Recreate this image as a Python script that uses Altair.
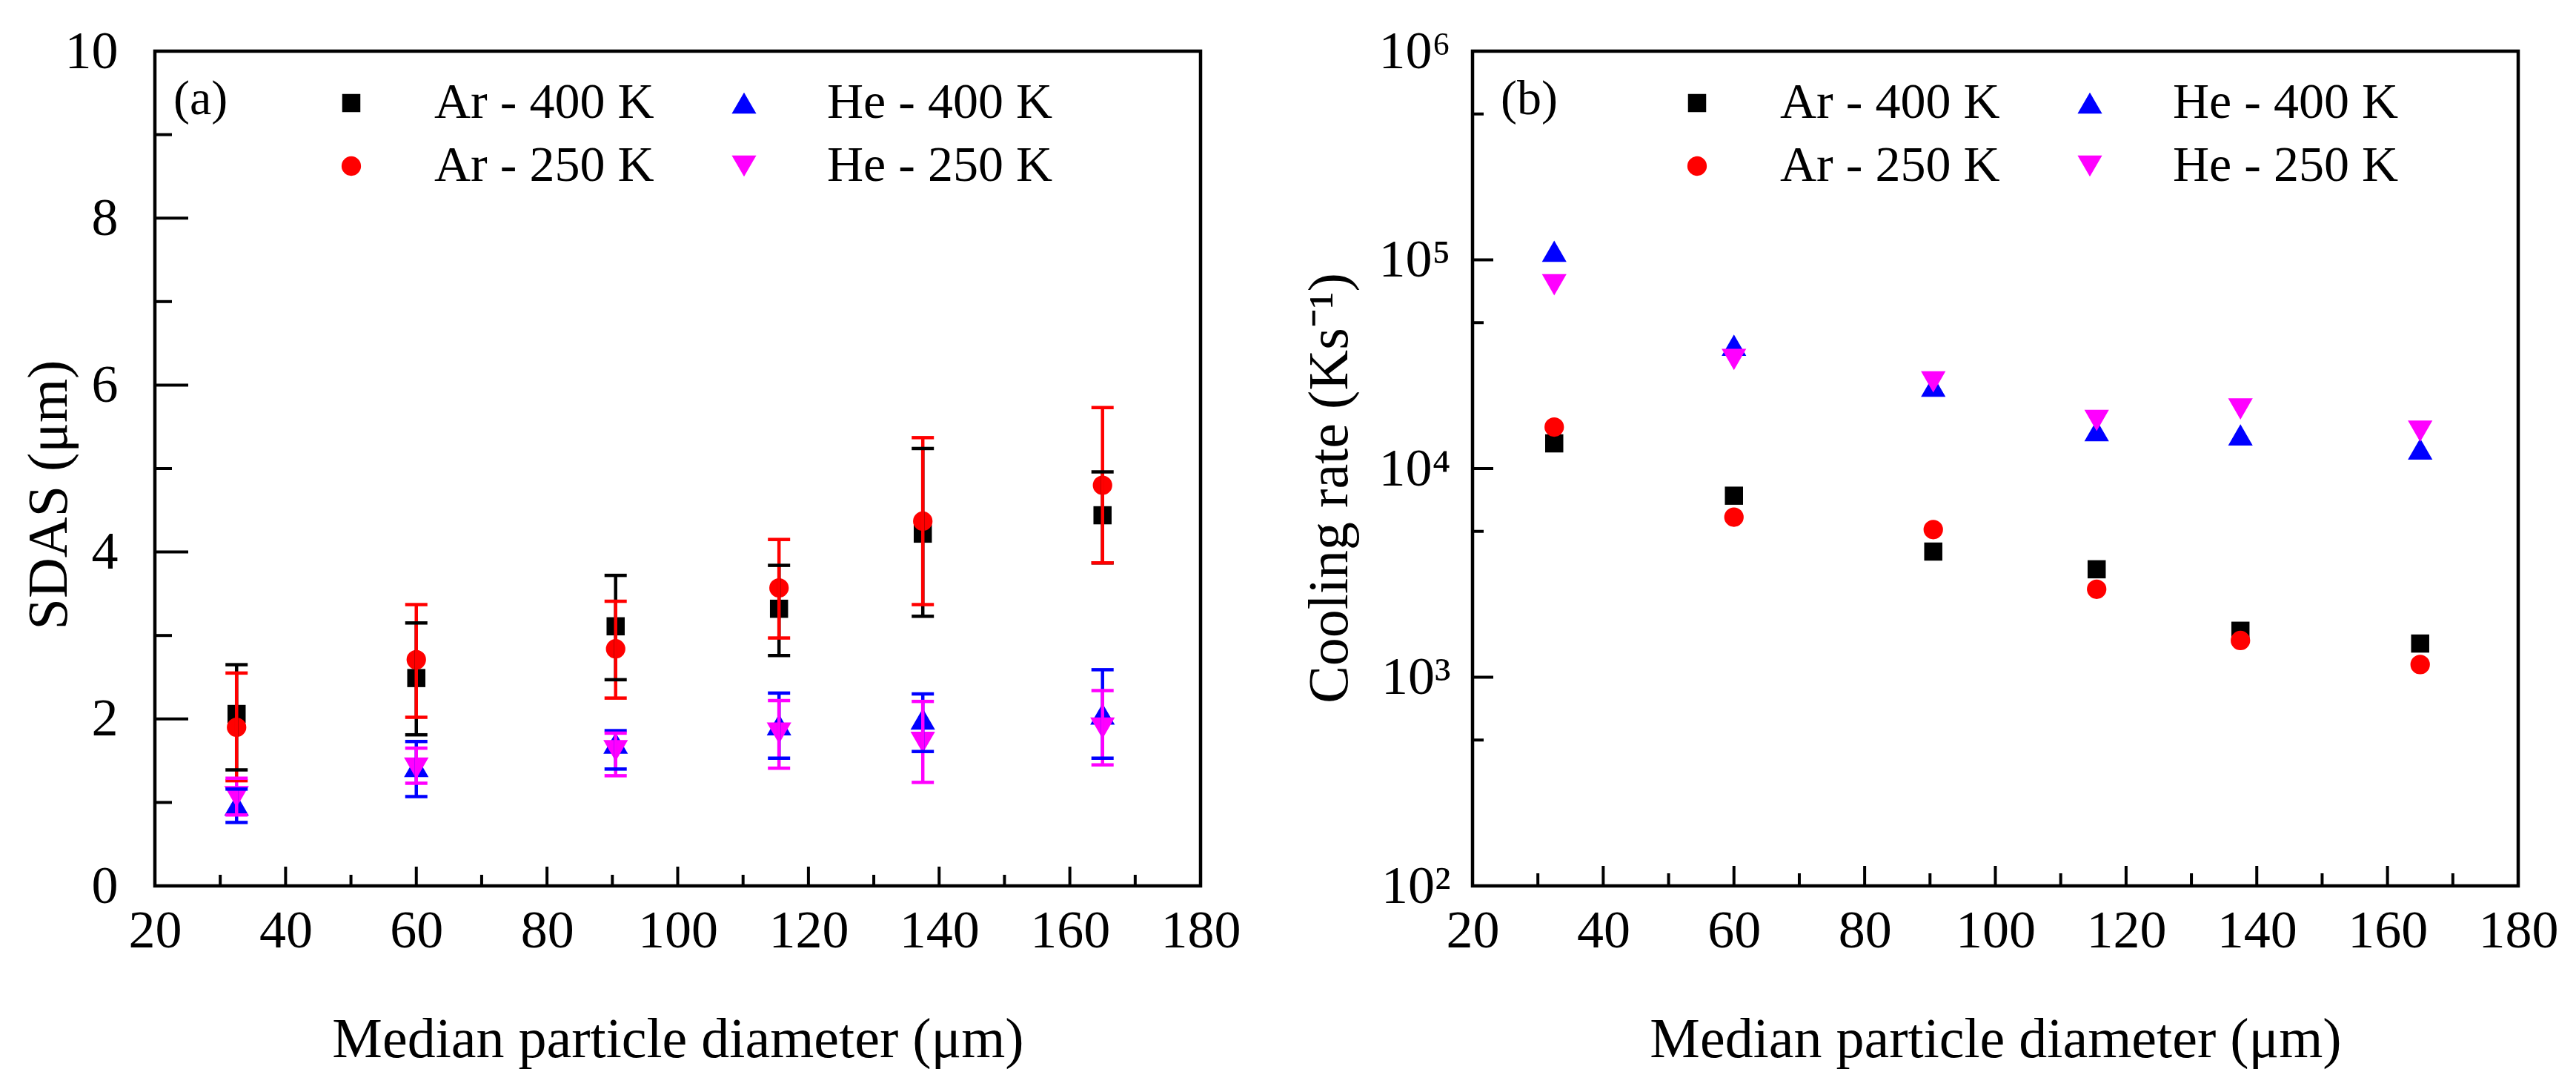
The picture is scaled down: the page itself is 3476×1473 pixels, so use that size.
import altair as alt
import pandas as pd

FONT = "Liberation Serif"

# ---------------- data ----------------
x_diam = [32.5, 60, 90.5, 115.5, 137.5, 165]
series = ["Ar - 400 K", "He - 400 K", "Ar - 250 K", "He - 250 K"]
colors = ["#000000", "#0000ff", "#ff0000", "#ff00ff"]
shapes = ["square", "triangle-up", "circle", "triangle-down"]
sizes = [600, 1100, 690, 1100]

# (a) SDAS (um) with error bars
ar400 = [2.06, 2.49, 3.11, 3.32, 4.22, 4.44]
ar400_lo = [1.39, 1.81, 2.47, 2.76, 3.23, 3.87]
ar400_hi = [2.65, 3.15, 3.72, 3.84, 5.24, 4.96]
ar250 = [1.90, 2.71, 2.84, 3.57, 4.37, 4.80]
ar250_lo = [1.26, 2.02, 2.25, 2.97, 3.37, 3.87]
ar250_hi = [2.55, 3.37, 3.41, 4.15, 5.37, 5.73]
he400 = [0.97, 1.43, 1.71, 1.93, 2.00, 2.06]
he400_lo = [0.76, 1.07, 1.40, 1.53, 1.61, 1.53]
he400_hi = [1.16, 1.73, 1.86, 2.31, 2.30, 2.59]
he250 = [1.07, 1.41, 1.62, 1.83, 1.72, 1.89]
he250_lo = [0.85, 1.23, 1.32, 1.41, 1.24, 1.45]
he250_hi = [1.29, 1.65, 1.83, 2.22, 2.21, 2.34]

# (b) cooling rate (K/s)
ar400_b = [1.32e4, 7.41e3, 4.0e3, 3.29e3, 1.67e3, 1.45e3]
ar250_b = [1.58e4, 5.85e3, 5.1e3, 2.64e3, 1.50e3, 1.15e3]
he400_b = [1.10e5, 3.9e4, 2.48e4, 1.52e4, 1.45e4, 1.24e4]
he250_b = [7.6e4, 3.33e4, 2.6e4, 1.70e4, 1.93e4, 1.51e4]

x_major = [20, 40, 60, 80, 100, 120, 140, 160, 180]
x_minor = [30, 50, 70, 90, 110, 130, 150, 170]
ya_major = [0, 2, 4, 6, 8, 10]
ya_minor = [1, 3, 5, 7, 9]
yb_major = [1e2, 1e3, 1e4, 1e5, 1e6]
yb_minor = [5e2, 5e3, 5e4, 5e5]

# ---------------- tables ----------------
rows_a = []
for name, ys, los, his in [
    ("Ar - 400 K", ar400, ar400_lo, ar400_hi),
    ("Ar - 250 K", ar250, ar250_lo, ar250_hi),
    ("He - 400 K", he400, he400_lo, he400_hi),
    ("He - 250 K", he250, he250_lo, he250_hi),
]:
    for xv, yv, lo, hi in zip(x_diam, ys, los, his):
        rows_a.append({"series": name, "d": xv, "v": yv, "lo": lo, "hi": hi})
df_a = pd.DataFrame(rows_a)

rows_b = []
for name, ys in [
    ("Ar - 400 K", ar400_b),
    ("Ar - 250 K", ar250_b),
    ("He - 400 K", he400_b),
    ("He - 250 K", he250_b),
]:
    for xv, yv in zip(x_diam, ys):
        rows_b.append({"series": name, "d": xv, "v": yv})
df_b = pd.DataFrame(rows_b)

W, H = 1411, 1126

x_scale = alt.Scale(domain=[20, 180], nice=False, zero=False)
ya_scale = alt.Scale(domain=[0, 10], nice=False, zero=False)
yb_scale = alt.Scale(type="log", domain=[100, 1e6], nice=False)

x_axis = alt.Axis(
    values=x_major, title="Median particle diameter (μm)",
    labelFont=FONT, labelFontSize=72, labelColor="black", labelPadding=25,
    labelFlush=False, labelOverlap=False,
    ticks=False, domain=False, grid=False,
    titleFont=FONT, titleFontSize=76, titleFontWeight="normal", titleColor="black",
    titleY=230, titleBaseline="alphabetic",
)
ya_axis = alt.Axis(
    values=ya_major, title="SDAS (μm)",
    labelFont=FONT, labelFontSize=72, labelColor="black", labelPadding=50,
    labelFlush=False, labelOverlap=False,
    ticks=False, domain=False, grid=False,
    titleFont=FONT, titleFontSize=76, titleFontWeight="normal", titleColor="black",
    titleX=-120, titleY=598, titleAlign="center", titleBaseline="alphabetic", titleAngle=270,
)
yb_axis = alt.Axis(
    values=yb_major, title="Cooling rate (Ks⁻¹)",
    labelExpr="'10' + ['⁰','¹','²','³','⁴','⁵','⁶'][round(log(datum.value)/LN10)]",
    labelFont=FONT, labelFontSize=72, labelColor="black", labelPadding=30,
    labelFlush=False, labelOverlap=False,
    ticks=False, domain=False, grid=False,
    titleFont=FONT, titleFontSize=76, titleFontWeight="normal", titleColor="black",
    titleX=-170, titleY=589, titleAlign="center", titleBaseline="alphabetic", titleAngle=270,
)


def legend(lx):
    return alt.Legend(
        orient="none", legendX=lx, legendY=36, columns=2, direction="horizontal",
        title=None, labelFont=FONT, labelFontSize=68, labelColor="black",
        labelOffset=78, columnPadding=87, rowPadding=17, padding=0,
        labelLimit=600, symbolStrokeWidth=0, symbolOpacity=1,
    )


def points(df, yscale, yaxis, lx):
    lg = legend(lx)
    return alt.Chart(df).mark_point(filled=True, opacity=1, strokeWidth=0).encode(
        x=alt.X("d:Q", scale=x_scale, axis=x_axis),
        y=alt.Y("v:Q", scale=yscale, axis=yaxis),
        color=alt.Color("series:N", scale=alt.Scale(domain=series, range=colors), legend=lg),
        shape=alt.Shape("series:N", scale=alt.Scale(domain=series, range=shapes), legend=lg),
        size=alt.Size("series:N", scale=alt.Scale(type="ordinal", domain=series, range=sizes), legend=lg),
    )


def tick_layers(yvals_major, yvals_minor, yscale, yaxis, ylen_major, ylen_minor, xlen_major, xlen_minor):
    layers = []
    for vals, ln in [(yvals_major, ylen_major), (yvals_minor, ylen_minor)]:
        layers.append(
            alt.Chart(pd.DataFrame({"t": vals})).mark_rule(color="black", strokeWidth=4).encode(
                y=alt.Y("t:Q", scale=yscale, axis=yaxis),
                x=alt.value(0), x2=alt.value(ln),
            )
        )
    for vals, ln in [(x_major, xlen_major), (x_minor, xlen_minor)]:
        layers.append(
            alt.Chart(pd.DataFrame({"t": vals})).mark_rule(color="black", strokeWidth=4).encode(
                x=alt.X("t:Q", scale=x_scale, axis=x_axis),
                y=alt.value(H), y2=alt.value(H - ln),
            )
        )
    return layers


def panel_label(txt, px, py):
    return alt.Chart(pd.DataFrame({"lab": [txt]})).mark_text(
        font=FONT, fontSize=66, color="black", align="left", baseline="middle"
    ).encode(text="lab:N", x=alt.value(px), y=alt.value(py))


# ---------------- panel (a) ----------------
err_stroke = alt.Stroke("series:N", scale=alt.Scale(domain=series, range=colors), legend=None)
err_fill = alt.Fill("series:N", scale=alt.Scale(domain=series, range=colors), legend=None)

pts_a = points(df_a, ya_scale, ya_axis, 231)
bars_a = alt.Chart(df_a).mark_rule(strokeWidth=4.5).encode(
    x=alt.X("d:Q", scale=x_scale, axis=x_axis),
    y=alt.Y("lo:Q", scale=ya_scale, axis=ya_axis),
    y2="hi:Q",
    stroke=err_stroke,
)
cap_lo = alt.Chart(df_a).mark_tick(orient="horizontal", size=30, thickness=4.5, opacity=1).encode(
    x=alt.X("d:Q", scale=x_scale, axis=x_axis),
    y=alt.Y("lo:Q", scale=ya_scale, axis=ya_axis),
    fill=err_fill,
)
cap_hi = alt.Chart(df_a).mark_tick(orient="horizontal", size=30, thickness=4.5, opacity=1).encode(
    x=alt.X("d:Q", scale=x_scale, axis=x_axis),
    y=alt.Y("hi:Q", scale=ya_scale, axis=ya_axis),
    fill=err_fill,
)

panel_a = alt.layer(
    *tick_layers(ya_major, ya_minor, ya_scale, ya_axis, 45, 23, 26, 15),
    pts_a, bars_a, cap_lo, cap_hi,
    panel_label("(a)", 25, 65),
).properties(width=W, height=H)

# ---------------- panel (b) ----------------
pts_b = points(df_b, yb_scale, yb_axis, 269)
panel_b = alt.layer(
    *tick_layers(yb_major, yb_minor, yb_scale, yb_axis, 28, 15, 27, 17),
    pts_b,
    panel_label("(b)", 38, 65),
).properties(width=W, height=H)

chart = alt.hconcat(panel_a, panel_b, spacing=367, bounds="flush").resolve_scale(
    color="independent", shape="independent", size="independent",
    fill="independent", stroke="independent",
).properties(
    padding={"left": 17, "top": 22, "right": 0, "bottom": 0}
).configure_view(stroke="black", strokeWidth=4.5)

chart.save("out.html", embed_options={"renderer": "svg", "actions": False})
